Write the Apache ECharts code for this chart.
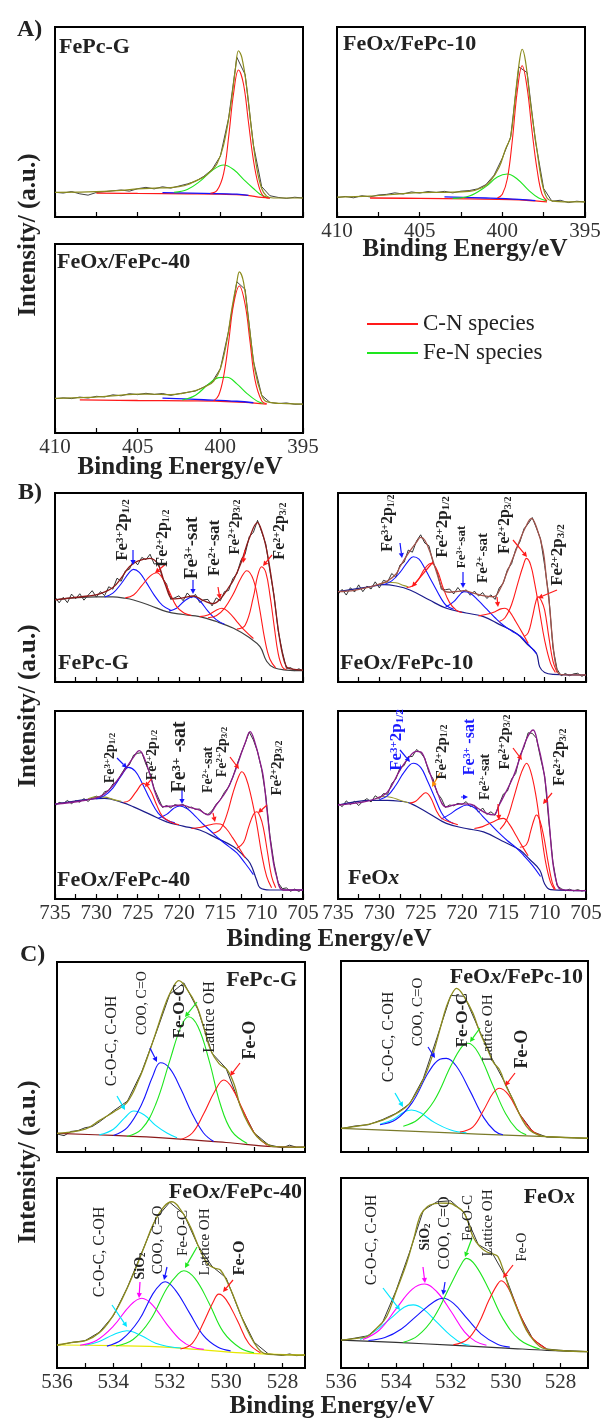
<!DOCTYPE html>
<html>
<head>
<meta charset="utf-8">
<script src="https://cdn.jsdelivr.net/npm/echarts@6.0.0/dist/echarts.min.js"></script>
<style>html,body{margin:0;background:#fff}#chart{width:605px;height:1427px}</style>
</head>
<body>
<div id="chart"></div>
<script>
// ---------- A) N 1s ----------
var a1Raw = [[410,13],[409.5,12.6],[409,13.4],[408.5,12.2],[408,11.5],[407.5,12.9],[407,13.3],[406.5,13.8],[406,14.2],[405.5,13.6],[405,14.9],[404.5,15.6],[404,14.8],[403.5,15.9],[403,15.2],[402.5,16.3],[402,17.4],[401.5,18.8],[401,21.4],[400.5,25],[400,32],[399.5,52],[399,84],[398.5,75],[398,38],[397.5,16],[397,11.2],[396.5,10.3],[396,9.8],[395.5,10.4],[395,10]];
var a1Env = [[410,13],[408,13.2],[406,14],[405,14.8],[404,15.2],[403,15.5],[402.5,16],[402,17],[401.5,19],[401,21],[400.6,24],[400.2,28],[399.8,38],[399.4,57],[399.1,77],[398.9,87.5],[398.7,84],[398.4,68],[398.1,45],[397.8,26],[397.5,15],[397.2,11],[396.8,10],[396,10],[395,10]];
var a1Bg = [[407.5,12.6],[405,12.4],[402,12.2],[400,12],[398.5,11.5],[397.5,10.3],[397,10]];
var a1BgB = [[403.5,12.8],[401,12.4],[399,12],[398.3,11.4]];
var a1CN = [[400.6,12.5],[400.2,14],[399.8,23],[399.5,42],[399.2,65],[398.9,77.4],[398.6,70],[398.3,50],[398,30],[397.7,17],[397.4,11],[397,10]];
var a1FeN = [[402.8,13],[402,14.5],[401.2,19],[400.5,24.5],[399.8,27.4],[399.2,25],[398.5,19],[398,15],[397.6,12],[397.2,10.5]];

var a2Raw = [[410,10.2],[409.5,10.8],[409,10.1],[408.5,11.2],[408,10.6],[407.5,11.6],[407,11.9],[406.5,12.7],[406,12.1],[405.5,13.2],[405,12.6],[404.5,13.4],[404,12.9],[403.5,13.5],[403,12.7],[402.5,13.6],[402,13.9],[401.5,14.8],[401,17],[400.5,22],[400,31],[399.5,42],[399,79],[398.5,76],[398,40],[397.5,15],[397,8.3],[396.5,8.8],[396,7.6],[395.5,8.3],[395,7.9]];
var a2Env = [[410,10.5],[408,11],[406,12.3],[405,12.8],[403.5,13],[402,13.5],[401.2,15.5],[400.75,18.6],[400.2,26],[399.8,36],[399.5,42],[399.2,65],[398.95,83],[398.8,88.3],[398.6,82],[398.3,60],[397.9,35],[397.6,18],[397.3,10],[397,8.5],[396,8],[395,8]];
var a2Bg = [[408,10],[405,9.8],[402,9.5],[399.5,9.2],[398,8.5],[397.3,8]];
var a2BgB = [[403.5,10.6],[401,10],[399,9.3],[398,8.6]];
var a2CN = [[400.3,10],[400,12],[399.7,20],[399.4,40],[399.1,66],[398.8,79.6],[398.5,68],[398.2,45],[397.9,25],[397.6,12],[397.3,8.5]];
var a2FeN = [[403,9.8],[402,11],[401,16],[400.3,21],[399.7,22.6],[399.1,20],[398.4,14],[397.8,10],[397.3,8.5]];

var a3Raw = [[410,18.1],[409.5,18.6],[409,18.2],[408.5,19],[408,18.5],[407.5,19.4],[407,19.1],[406.5,20.2],[406,19.7],[405.5,20.8],[405,20.3],[404.5,21],[404,20.4],[403.5,20.9],[403,19.9],[402.5,20.8],[402,21.5],[401.5,22.2],[401,24.3],[400.5,27],[400,34],[399.5,54],[399,80],[398.5,76],[398,38],[397.5,20],[397,16.2],[396.5,15.6],[396,15.9],[395.5,15.2],[395,15.3]];
var a3Env = [[410,18.3],[408,18.8],[406,20],[405,20.6],[404,20.5],[403,20.3],[402.3,21],[401.5,22.5],[400.8,25],[400.4,27.5],[400,34],[399.6,49],[399.3,66],[399,80],[398.85,85.3],[398.6,80],[398.3,60],[397.9,33],[397.5,20],[397.2,16.6],[396,15.5],[395,15.3]];
var a3Bg = [[408.5,17.5],[405,17.2],[402,17],[400,16.8],[398.5,16.2],[397.2,15.3]];
var a3BgB = [[403.5,18.4],[401,17.6],[399,16.8],[398,16]];
var a3CN = [[400.4,17],[400.1,20],[399.8,30],[399.5,48],[399.2,68],[398.85,77.8],[398.5,68],[398.2,48],[397.9,28],[397.5,17],[397.2,15.5]];
var a3FeN = [[402.3,17.5],[401.5,20],[400.7,26],[400.1,29.3],[399.6,29.5],[399,26],[398.4,21],[397.8,17],[397.4,15.6]];

// ---------- B) Fe 2p ----------
var b1Raw = [[735,45],[734.5,41.9],[734,44.8],[733.5,42],[733,46.5],[732.5,44.1],[732,46.7],[731.5,43.3],[731,45.9],[730.5,48.3],[730,44.9],[729.5,47.8],[729,45.7],[728.5,50.4],[728,49.1],[727.5,54.9],[727,53.3],[726.5,58.7],[726,59.7],[725.5,64.4],[725,62],[724.5,65.9],[724,64.7],[723.5,67.6],[723,62.4],[722.5,62.9],[722,54.9],[721.5,51.8],[721,43.7],[720.5,44.6],[720,45.6],[719.5,43],[719,47.1],[718.5,44.6],[718,46.3],[717.5,42.1],[717,43.5],[716.5,43.7],[716,40.3],[715.5,44.5],[715,43],[714.5,47.8],[714,48.4],[713.5,54.6],[713,57.3],[712.5,64.5],[712,67.7],[711.5,76.9],[711,79.2],[710.5,85.5],[710,79.4],[709.5,73],[709,58.6],[708.5,45.7],[708,27.1],[707.5,16.1],[707,7.2],[706.5,7.6],[706,6],[705.5,7],[705,5.9]];
var b1Env = [[735,43.5],[733,44.5],[731,45.5],[729.6,46.6],[728,50],[727,55],[726,61],[725,64],[723.5,65.4],[722.5,62],[721.7,52],[720.7,44],[719.5,44.5],[718.3,45.5],[717,43],[715.85,41.5],[715,44],[714,50],[713.4,54],[712.5,63],[711.5,76],[710.5,84.3],[710,80],[709.5,72],[709,60],[708.5,45],[708,28],[707.5,15],[707,8],[706.5,7],[705,6.3]];
var b1Bg = [[735,43.5],[730,45],[728,45],[726.5,44.3],[725.5,43.4],[723.5,40.5],[721.5,37.2],[719.5,35.7],[717.5,34.6],[715.5,32],[713.4,28.4],[711.5,23.5],[710.2,18.7],[709.4,11],[708.5,7.5],[707,6.3],[705,6]];
var b1Fe3a = [[729,45],[728,47],[727,52],[726,58],[725.5,59.6],[724.8,58],[724,53],[723,46],[722,40.5],[721,38]];
var b1Fe2a = [[726.5,44.5],[725.5,46],[724.5,51],[723.5,56],[722.7,57.8],[722,55],[721.2,48],[720.3,40],[719.4,36.5],[718.5,35.2]];
var b1Sat3 = [[721.2,37.5],[720.3,39],[719.3,43],[718.3,45.1],[717.5,43],[716.5,37.5],[715.5,33],[714.5,30.5]];
var b1Sat2 = [[717.5,34.6],[716.5,35.5],[715.5,38],[714.8,39],[714,37],[713,32],[712,27],[711,23]];
var b1Fe2b = [[716.5,34],[715.5,35],[714.5,39],[713.5,46],[712.5,55],[711.8,58.9],[711,54],[710.3,40],[709.6,22],[709,12],[708.3,7.5]];
var b1Fe2c = [[713,28],[712,30],[711,45],[710.5,56],[710,61],[709.5,58],[709,46],[708.5,30],[708,15],[707.5,8],[707,6.5]];

var b2Raw = [[735,46.4],[734.5,49],[734,46],[733.5,49.9],[733,47.6],[732.5,51.4],[732,47.8],[731.5,50.7],[731,49.2],[730.5,53],[730,49.8],[729.5,53.8],[729,53],[728.5,57.4],[728,55.4],[727.5,61.9],[727,63.4],[726.5,69.8],[726,68.7],[725.5,74.6],[725,77.9],[724.5,73.5],[724,72.1],[723.5,63.2],[723,58.3],[722.5,49.1],[722,48.8],[721.5,49.2],[721,46.6],[720.5,50],[720,47.2],[719.5,48.8],[719,45.9],[718.5,48.1],[718,45.5],[717.5,47.3],[717,44.2],[716.5,46.1],[716,43.7],[715.5,49.7],[715,52.4],[714.5,59.5],[714,62.6],[713.5,70.2],[713,74.1],[712.5,81.1],[712,83.7],[711.5,87],[711,81.5],[710.5,75.7],[710,61.6],[709.5,45.5],[709,18.2],[708.5,6.8],[708,3.3],[707.5,4.5],[707,3.3],[706.5,4.3],[706,4.6],[705.5,3],[705,4.1]];
var b2Env = [[735,47.8],[733,48.5],[731,50.5],[729.9,51.9],[729,53.5],[728,57],[727.5,61],[726.5,68],[725.5,74],[725,76.5],[724.5,75],[723.8,68],[723,57],[722.3,48.7],[721.5,47.5],[720.5,48],[719.8,48.3],[718.8,47.3],[717.8,46],[716.2,45.1],[715.3,50],[714.6,57.5],[713.8,66],[713,75],[712.3,82],[711.6,86.6],[711,82],[710.2,69.8],[709.8,55],[709.4,39.8],[709,20],[708.5,6],[708,3.9],[705,3.7]];
var b2Bg = [[735,47.8],[731,50.5],[729.5,51.5],[728,50.8],[726.3,48.7],[724,43.5],[721.9,39],[719.5,36.5],[717.4,34.6],[715.5,30.5],[713.4,25.7],[712,19.5],[711,15.2],[710.6,8],[710,5],[709,4],[705,3.7]];
var b2Olive = [[730,51.8],[729,52.8],[728,52.5],[727,51],[726.5,50.3]];
var b2Fe3a = [[729.5,51.5],[728.5,53.5],[727.5,58],[726.5,64],[725.9,66.3],[725.2,65],[724.5,60],[723.5,52],[722.5,44],[721.9,40.5],[721,38.5]];
var b2Fe2a = [[726.7,50],[726,50.8],[725.3,54],[724.5,60],[723.7,62.8],[723,59],[722.3,50],[721.5,42],[720.7,38],[720,36.8]];
var b2Sat3 = [[722,39.5],[721,42.5],[720.3,46],[719.8,47.8],[719,47],[718,43],[717,38.5],[716,34],[715,30],[714,27],[713,24.5],[712,20],[711,15]];
var b2Sat2 = [[718,35],[717,35.8],[716,37.2],[715.3,38.7],[714.8,39],[714.2,37],[713.5,32],[712.7,26],[712,20.5]];
var b2Fe2b = [[715.5,32],[714.8,34],[714,41],[713.2,53],[712.6,61.5],[712.2,65.4],[711.7,62],[711.2,52],[710.6,37],[710,22],[709.3,10],[708.7,5]];
var b2Fe2c = [[712.5,24],[712,26],[711.5,34],[711.1,42],[710.8,45.1],[710.4,43],[710,38],[709.5,24],[709,11],[708.5,5]];

var b3Raw = [[735,49.5],[734.5,51.4],[734,50.8],[733.5,52.4],[733,50.7],[732.5,52.3],[732,51.5],[731.5,53.4],[731,51.9],[730.5,53.8],[730,54.7],[729.5,53.9],[729,57.1],[728.5,57.6],[728,61.2],[727.5,62.1],[727,66.3],[726.5,69.9],[726,71.4],[725.5,76.5],[725,77.5],[724.5,77.9],[724,71.7],[723.5,66.6],[723,58.7],[722.5,53.8],[722,48.7],[721.5,49.7],[721,48.5],[720.5,50.2],[720,49.6],[719.5,50.3],[719,48.3],[718.5,48.9],[718,47.6],[717.5,47.9],[717,45.6],[716.5,45],[716,47],[715.5,50.4],[715,52.8],[714.5,56.8],[714,59.6],[713.5,64.7],[713,71.3],[712.5,77.4],[712,82.8],[711.5,88.8],[711,84.6],[710.5,78.4],[710,68.9],[709.5,55],[709,33.7],[708.5,18.9],[708,8.6],[707.5,5.5],[707,5.9],[706.5,4.1],[706,5.3],[705.5,4],[705,5.3]];
var b3Env = [[735,50.5],[732,52],[729.6,54.4],[728.5,58],[727.5,63],[726.3,70.3],[725.5,75.5],[724.8,78.9],[724.2,75],[723.5,66],[722.7,54.4],[721.9,49.1],[720.8,49.5],[719.7,50],[718.5,48.5],[717.5,47.3],[716.5,44.7],[715.5,50],[714.2,58],[713.3,67],[712.6,75.7],[712,83],[711.4,89],[710.8,83],[710.2,73],[709.8,65],[709.3,45],[708.8,26],[708.2,12],[707.4,4.8],[705,4.8]];
var b3Bg = [[735,50.5],[731,53],[729,53.5],[727,51.5],[725.5,49],[723.5,45],[721.5,41],[719.5,38.8],[717.5,36.7],[715.5,32.5],[713.4,27.8],[712.3,23.5],[711.4,19],[710.6,10],[710.2,6],[709,4.8],[705,4.8]];
var b3Olive = [[731,53.3],[730,54.3],[729,54.2],[728,53],[727,52]];
var b3Fe3a = [[730,53.2],[729,55],[728,59],[727,65.5],[726.1,70],[725.3,68],[724.5,62],[723.5,53],[722.5,45.5],[721.5,42],[720.5,40.5]];
var b3Fe2a = [[726.7,51.5],[726,52.5],[725.2,57],[724.3,61.5],[723.5,58],[722.7,50],[722,44],[721,41],[720,39.5]];
var b3Sat3 = [[722.5,43],[721.5,45],[720.7,48],[719.9,49.5],[719,48],[718,44],[717,39.5],[716,35.5],[715,31.5],[714,28],[713,24.5],[712,19],[711,13]];
var b3Sat2 = [[718.5,37.5],[717.5,38],[716.5,39.2],[715.5,40],[715,39.9],[714.3,37.5],[713.5,32.5],[712.7,27],[712,22]];
var b3Fe2b = [[715.9,35],[715,37],[714.2,45],[713.5,56],[712.8,65],[712.4,67.7],[711.9,64.5],[711.3,55],[710.6,40],[710,24],[709.4,12],[708.8,6]];
var b3Fe2c = [[713,27],[712.2,30],[711.6,38],[711,45],[710.6,46.4],[710.2,44],[709.8,38],[709.3,25],[708.8,12],[708.3,6]];

var b4Raw = [[735,51.1],[734.5,49.1],[734,52.2],[733.5,50.2],[733,52],[732.5,49.7],[732,51.9],[731.5,53.4],[731,51.6],[730.5,54.9],[730,53.4],[729.5,56.1],[729,55.7],[728.5,61.4],[728,63.9],[727.5,69.8],[727,71],[726.5,75.7],[726,75.8],[725.5,79.5],[725,77.8],[724.5,74.8],[724,67.4],[723.5,63.9],[723,56.3],[722.5,53.5],[722,48.7],[721.5,50],[721,49.6],[720.5,50.9],[720,50.3],[719.5,51.8],[719,49.1],[718.5,49.9],[718,46.2],[717.5,48.4],[717,45],[716.5,46.4],[716,44.5],[715.5,50.3],[715,55.8],[714.5,57.4],[714,63.8],[713.5,66.8],[713,76.3],[712.5,80.8],[712,88.4],[711.5,88.1],[711,85.6],[710.5,75],[710,65.5],[709.5,41.4],[709,19.7],[708.5,7.1],[708,5.5],[707.5,4.4],[707,5.2],[706.5,4.3],[706,5],[705.5,4.2],[705,4.8]];
var b4Env = [[735,50],[732,51.5],[730.3,53.6],[729,57],[727.5,68.6],[726.3,76],[725.5,78.5],[725,78.3],[724.3,72],[723.1,58],[721.9,49],[721,50],[720,50.6],[719,50.5],[718,48],[717,45.5],[716.2,44.7],[715.5,50],[714.8,56],[713.8,65],[713,75],[712.2,85],[711.4,89.9],[710.8,82],[710.2,70],[709.8,58],[709.4,38],[709,19],[708.5,8],[708,5],[705,4.5]];
var b4Bg = [[735,50],[731,52.5],[729,52.5],[727.5,52],[726.3,51],[724,45.5],[721.9,40.2],[719.5,37.5],[717.4,35.7],[715.2,31],[713,26],[711.8,21],[710.6,15.4],[710,8],[709.3,5],[705,4.5]];
var b4Olive = [[730.5,53.3],[729.5,54.5],[728.5,54],[727.5,52.5],[726.5,51.2]];
var b4Fe3a = [[730,52.8],[729,55],[728,60.5],[727,67.5],[725.9,72.2],[725,70],[724.2,63],[723.3,54],[722.5,46],[721.9,42.5],[721,40]];
var b4Fe2a = [[726.3,51],[725.6,52],[725,54.5],[724.4,56.5],[723.8,54],[723.1,47],[722.5,43],[721.5,41],[720.5,39.5]];
var b4Sat3 = [[722.5,42.5],[721.5,45],[720.5,48],[719.4,50],[718.5,48.5],[717.5,44],[716.5,39.5],[715.5,35],[714.5,31],[713.5,27.5],[712.5,23],[711.5,18],[710.5,12]];
var b4Sat2 = [[718.5,37.5],[717.5,38.5],[716.5,40.5],[715.5,42.5],[715,42.9],[714.3,40],[713.5,34],[712.7,28],[712,23]];
var b4Fe2b = [[715.4,37],[714.6,42],[713.8,53],[713,65],[712.5,70.5],[712.2,72.2],[711.7,68],[711.1,56],[710.5,38],[709.9,20],[709.3,9],[708.8,5]];
var b4Fe2c = [[713,27.5],[712.2,29],[711.7,36],[711.3,42],[711,44.7],[710.6,42],[710.1,33],[709.6,20],[709.1,9],[708.7,5]];

// ---------- C) O 1s ----------
var c1Raw = [[536,9.5],[535.75,8.6],[535.5,10.8],[535.25,11.3],[535,12.8],[534.75,13.4],[534.5,15.8],[534.25,18.6],[534,21.6],[533.5,26.8],[533,42],[532.5,62],[532,83],[531.5,89],[531,75],[530.5,52],[530,44],[529.5,24.5],[529,10],[528.5,3.8],[528,2.2],[527.75,3.6],[527.5,2.5],[527.2,2.6]];
var c1Env = [[536,9.8],[535,12],[534.47,16.8],[534,21],[533.52,26],[533.1,38],[532.7,53.7],[532.4,67],[532.1,80],[531.85,87.5],[531.68,90.2],[531.4,86],[531.03,76.5],[530.8,66],[530.55,53.7],[530.25,46.5],[529.96,43.2],[529.7,35],[529.49,23.9],[529.2,14.5],[528.9,8],[528.6,4.5],[528.3,2.8],[527.2,2.5]];
var c1Bg = [[536,9.8],[534,8.7],[532,7.2],[530,5],[528.3,2.8],[527.2,2.5]];
var c1COC = [[534.5,9],[534,12],[533.6,18],[533.28,21.6],[532.9,19.5],[532.5,14],[532.1,10],[531.74,7.5]];
var c1COO = [[534,8.7],[533.5,13],[533,25],[532.6,40],[532.33,47],[532,44],[531.6,33],[531.2,20],[530.8,10],[530.44,5.5]];
var c1FeOC = [[533.52,8.2],[533,12],[532.5,25],[532,48],[531.6,66],[531.33,71.2],[531,66],[530.6,48],[530.2,25],[529.8,11],[529.25,4.5]];
var c1FeO = [[531.62,6.5],[531.2,10],[530.8,20],[530.4,32],[530.08,37.9],[529.8,34],[529.4,22],[529,10],[528.54,3.5]];

var c2Raw = [[536,12.2],[535.5,13.6],[535,14.3],[534.5,16.9],[534,20.2],[533.5,25.2],[533,38.5],[532.5,60],[532,82],[531.5,81.5],[531,65],[530.5,49],[530,35.5],[529.5,20],[529,10.5],[528.5,7.8],[528,7.6],[527.5,7.4],[527,7.1]];
var c2Env = [[536,12.4],[535,14.5],[534.46,16.8],[534,20],[533.5,25.5],[533,38],[532.64,51.7],[532.4,64],[532.16,76.1],[531.95,83],[531.79,85.7],[531.5,81],[531.19,72.6],[530.95,63],[530.7,55.1],[530.45,47],[530.22,42.9],[530,35],[529.73,27.2],[529.4,17],[529.13,11.5],[528.8,8.8],[528.52,8],[527,7.2]];
var c2Bg = [[536,12.4],[532,10],[530,8.8],[528.5,8],[527,7.2]];
var c2COC = [[534.58,14.5],[534.1,17],[533.7,21],[533.43,22],[533.1,20.5],[532.6,15.5],[532,11.5],[531.43,10]];
var c2COO = [[534.58,14.3],[534,17],[533.4,26],[532.8,42],[532.4,48.5],[532.16,49],[531.8,45],[531.3,32],[530.8,18],[530.4,11],[530.1,9]];
var c2FeOC = [[533.73,13.5],[533.2,17],[532.6,27],[532,45],[531.6,55],[531.37,56.9],[531,52],[530.5,36],[530,20],[529.6,12],[529.25,9]];
var c2FeO = [[531.67,10.5],[531.2,13],[530.8,22],[530.45,31],[530.22,33.4],[529.9,30],[529.5,20],[529.1,12],[528.76,8.8]];

var c3Raw = [[536,11.8],[535.5,13.4],[535,14.4],[534.5,18.8],[534,27.5],[533.5,42.5],[533,60.5],[532.5,78.5],[532,87.2],[531.5,81],[531,64.5],[530.5,53.5],[530,47.5],[529.5,28.5],[529,13.5],[528.5,7.4],[528,6.6],[527.75,7.4],[527.5,6.5],[527.2,6.9]];
var c3Env = [[536,12.1],[535.5,13.3],[534.94,14.7],[534.5,18.5],[534.11,25.3],[533.7,36],[533.28,49.8],[532.9,64],[532.57,76.1],[532.2,85],[531.92,87.5],[531.6,83],[531.27,74.4],[530.95,63],[530.67,55.1],[530.4,52.5],[530.2,51.6],[529.95,45],[529.73,37.5],[529.4,25],[529.13,16.5],[528.9,11],[528.66,7.7],[528.2,7],[527.2,6.8]];
var c3Bg = [[536,12.1],[534,11.8],[532,10.9],[530,8.5],[528.5,7.3],[527.2,6.8]];
var c3COC = [[535,12],[534.5,14],[534,17.5],[533.52,19.6],[533,17],[532.5,13],[532,11.2],[531.6,10.5]];
var c3SiO2 = [[535.18,12],[534.6,14.5],[534,22],[533.4,33],[532.99,36.7],[532.6,33],[532.1,23],[531.6,14.5],[531.2,11],[530.79,9.8]];
var c3COO = [[534.23,11.5],[533.7,15],[533.1,25],[532.6,39],[532.3,44.5],[532.16,45.4],[531.8,41],[531.3,29],[530.8,17],[530.3,11],[529.84,9]];
var c3FeOC = [[533.9,11.6],[533.3,15],[532.7,25],[532.1,42],[531.7,49.5],[531.5,51.2],[531.1,47],[530.6,34],[530.1,19],[529.5,10.5],[529.01,8]];
var c3FeO = [[531.62,10],[531.2,13],[530.8,24],[530.45,35],[530.26,38.9],[530,36],[529.6,25],[529.2,13],[528.78,8]];

var c4Raw = [[536,14.5],[535.5,15.7],[535,17],[534.5,23.5],[534,40.5],[533.5,61],[533,83],[532.5,87.5],[532,88],[531.5,81.5],[531,65],[530.5,60.8],[530,48],[529.5,28.5],[529,15],[528.5,10],[528,9.3],[527.5,8.9],[527,8.6]];
var c4Env = [[536,14.7],[535.5,15.5],[535.07,16.5],[534.7,21],[534.34,27],[534,40],[533.61,55.1],[533.35,68],[533.13,79.6],[532.95,83.5],[532.76,85.8],[532.4,86.8],[532.04,86.7],[531.8,85],[531.55,82.3],[531.35,76],[531.19,69.1],[530.95,64],[530.7,61.2],[530.45,60],[530.28,58.6],[530.05,50],[529.85,41],[529.55,30],[529.25,20],[528.95,14],[528.64,10.4],[528,9.2],[527,8.6]];
var c4Bg = [[536,14.7],[534,13.5],[532,12],[530,10.5],[528.5,9.3],[527,8.6]];
var c4COC = [[535.3,15],[534.8,19],[534.2,26],[533.7,32],[533.37,33.2],[533,31],[532.5,24],[532,17],[531.6,13],[531.31,12]];
var c4SiO2 = [[535.2,15],[534.6,20],[534,31],[533.4,41.5],[532.95,44.2],[532.5,40],[532,30],[531.5,19],[531.1,14],[530.7,12]];
var c4COO = [[535,14.5],[534.4,16],[533.8,20.5],[533.2,28],[532.6,35],[532.28,36.7],[531.9,34],[531.4,26],[530.9,18],[530.3,12.5],[529.85,11]];
var c4FeOC = [[533.73,13.5],[533.2,17],[532.6,27],[532,44],[531.6,55],[531.43,57.7],[531.1,54],[530.6,41],[530.1,26],[529.5,15],[528.76,10]];
var c4FeO = [[531.91,12.2],[531.4,15],[531,23],[530.6,36],[530.3,44],[530.16,45.9],[529.9,42],[529.5,29],[529.1,17],[528.52,10]];

var cLabelTicks = [528, 530, 532, 534, 536];
var cMinorTicks = [528, 529, 530, 531, 532, 533, 534, 535];

// ---------- layout / styles ----------
var F = 'Liberation Serif';
var RED = '#ff1a1a', GRN = '#1ee61e', BLU = '#1414ff', CYN = '#00e5ff', MAG = '#ff00ff';
var OLV = '#8c8c1e';

function aCurves(raw, env, bg, bgB, cn, fen, named) {
  return [[raw,'#111',0.8,false,1],[bg,RED,1.3,true,2],[bgB,BLU,1.3,true,2],
          [fen,GRN,1.1,true,3,named?'Fe-N species':null],[cn,RED,1.1,true,3,named?'C-N species':null],[env,OLV,1.2,true,4]];
}
function bCurves(raw, env, envC, bg, bgC, olive, f3a, f2a, s3, s2, f2b, f2c) {
  var list = [[raw,'#000',0.8,false,1],[bg,bgC,1.2,true,2]];
  if (olive) list.push([olive,'#9a9a30',1.1,true,2]);
  list.push([f3a,BLU,1.1,true,3],[s3,BLU,1.1,true,3],[f2a,RED,1.1,true,3],[s2,RED,1.1,true,3],
            [f2b,RED,1.1,true,3],[f2c,RED,1.1,true,3],[env,envC,1.3,true,4]);
  return list;
}
function cCurves(raw, env, bg, bgC, coc, sio2, coo, feoc, feo) {
  var list = [[raw,'#000',0.8,false,1],[bg,bgC,1.2,true,2],[coc,CYN,1.1,true,3]];
  if (sio2) list.push([sio2,MAG,1.1,true,3]);
  list.push([coo,BLU,1.1,true,3],[feoc,GRN,1.1,true,3],[feo,RED,1.1,true,3],[env,OLV,1.3,true,4]);
  return list;
}

var panels = [
  {g:[55,27,248,190], ax:'A', lab:false, c:aCurves(a1Raw,a1Env,a1Bg,a1BgB,a1CN,a1FeN,true)},
  {g:[337,27,248,190], ax:'A', lab:true, c:aCurves(a2Raw,a2Env,a2Bg,a2BgB,a2CN,a2FeN,false)},
  {g:[55,244,248,189], ax:'A', lab:true, c:aCurves(a3Raw,a3Env,a3Bg,a3BgB,a3CN,a3FeN,false)},
  {g:[55,493,248,189], ax:'B', lab:false, c:bCurves(b1Raw,b1Env,'#8b1a1a',b1Bg,'#404040',null,b1Fe3a,b1Fe2a,b1Sat3,b1Sat2,b1Fe2b,b1Fe2c)},
  {g:[338,493,248,189], ax:'B', lab:false, c:bCurves(b2Raw,b2Env,'#a0524a',b2Bg,'#1c1c8c',b2Olive,b2Fe3a,b2Fe2a,b2Sat3,b2Sat2,b2Fe2b,b2Fe2c)},
  {g:[55,711,248,188], ax:'B', lab:true, c:bCurves(b3Raw,b3Env,'#8a1a8a',b3Bg,'#1c1c8c',b3Olive,b3Fe3a,b3Fe2a,b3Sat3,b3Sat2,b3Fe2b,b3Fe2c)},
  {g:[338,711,248,188], ax:'B', lab:true, c:bCurves(b4Raw,b4Env,'#8a1a8a',b4Bg,'#1c1c8c',b4Olive,b4Fe3a,b4Fe2a,b4Sat3,b4Sat2,b4Fe2b,b4Fe2c)},
  {g:[57,962,248,190], ax:'CL', lab:false, c:cCurves(c1Raw,c1Env,c1Bg,'#8b1a1a',c1COC,null,c1COO,c1FeOC,c1FeO)},
  {g:[341,961,247,191], ax:'CR', lab:false, c:cCurves(c2Raw,c2Env,c2Bg,'#7a7a2a',c2COC,null,c2COO,c2FeOC,c2FeO)},
  {g:[57,1178,248,190], ax:'CL', lab:true, c:cCurves(c3Raw,c3Env,c3Bg,'#e8e800',c3COC,c3SiO2,c3COO,c3FeOC,c3FeO)},
  {g:[341,1178,247,190], ax:'CR', lab:true, c:cCurves(c4Raw,c4Env,c4Bg,'#333',c4COC,c4SiO2,c4COO,c4FeOC,c4FeO)}
];

function xAxisFor(kind, lab, i) {
  var ax = {type:'value', gridIndex:i, inverse:true, splitLine:{show:false},
    axisLine:{show:true, onZero:false, lineStyle:{color:'#000', width:2}},
    axisTick:{show:true, inside:true, length:5, lineStyle:{color:'#000', width:1.2}},
    axisLabel:{show:lab, color:'#333', fontFamily:F, fontSize:21, margin:4, showMinLabel:true, showMaxLabel:true}};
  if (kind === 'A') {
    ax.min = 395; ax.max = 410; ax.interval = 2.5;
    ax.axisLabel.formatter = function (v) { return v % 5 === 0 ? String(v) : ''; };
  } else if (kind === 'B') {
    ax.min = 705; ax.max = 735; ax.interval = 2.5;
    ax.axisLabel.formatter = function (v) { return v % 5 === 0 ? String(v) : ''; };
  } else {
    ax.min = kind === 'CL' ? 527.2 : 527; ax.max = 536;
    ax.axisTick.customValues = cMinorTicks;
    ax.axisLabel.customValues = cLabelTicks;
  }
  return ax;
}

var option = {animation:false, grid:[], xAxis:[], yAxis:[], series:[],
  legend:{data:['C-N species','Fe-N species'], orient:'vertical', left:367, top:312, itemGap:5, padding:0,
    icon:'rect', itemWidth:51, itemHeight:2, selectedMode:false,
    textStyle:{fontFamily:F, fontSize:23, color:'#222', lineHeight:24}}};

panels.forEach(function (p, i) {
  option.grid.push({left:p.g[0], top:p.g[1], width:p.g[2], height:p.g[3], show:true, borderColor:'#000', borderWidth:2});
  option.xAxis.push(xAxisFor(p.ax, p.lab, i));
  option.yAxis.push({type:'value', gridIndex:i, min:0, max:100, show:false});
  p.c.forEach(function (c) {
    option.series.push({type:'line', name:c[5] || undefined, xAxisIndex:i, yAxisIndex:i, data:c[0],
      smooth:c[3] ? 0.4 : false, showSymbol:false, symbol:'none', silent:true, z:c[4],
      lineStyle:{color:c[1], width:c[2]}, itemStyle:{color:c[1]}});
  });
});

// ---------- annotations ----------
var G = [];
function txt(x, y, s, opt) {
  opt = opt || {};
  G.push({type:'text', x:x, y:y, rotation:opt.rot || 0, z:100,
    style:{text:s, fill:opt.color || '#222', rich:opt.rich, textAlign:opt.align || 'center', textVerticalAlign:'middle',
      font:(opt.weight || 'bold') + ' ' + (opt.size || 22) + 'px "' + F + '"'}});
}
function richSet(size, color, weight) {
  var w = weight || 'bold';
  return {
    m:{fontSize:size, fontWeight:w, fontFamily:F, fill:color, color:color},
    i:{fontSize:size, fontWeight:w, fontStyle:'italic', fontFamily:F, fill:color, color:color},
    s:{fontSize:Math.round(size * 0.65), fontWeight:w, fontFamily:F, fill:color, color:color, verticalAlign:'top'},
    d:{fontSize:Math.round(size * 0.65), fontWeight:w, fontFamily:F, fill:color, color:color, verticalAlign:'bottom'}
  };
}
function arrow(x1, y1, x2, y2, color) {
  var a = Math.atan2(y2 - y1, x2 - x1), L = 5, W = 2.6;
  var bx = x2 - L * Math.cos(a), by = y2 - L * Math.sin(a);
  G.push({type:'line', z:99, shape:{x1:x1, y1:y1, x2:bx, y2:by}, style:{stroke:color, lineWidth:1.2}});
  G.push({type:'polygon', z:99, shape:{points:[[x2, y2], [bx - W * Math.sin(a), by + W * Math.cos(a)], [bx + W * Math.sin(a), by - W * Math.cos(a)]]}, style:{fill:color}});
}

var ROT = Math.PI / 2;
var feKinds = {
  '3p12':'{m|Fe}{s|3+}{m|2p}{d|1/2}', '2p12':'{m|Fe}{s|2+}{m|2p}{d|1/2}',
  '3sat':'{m|Fe}{s|3+}{m|-sat}', '3sat2':'{m|Fe}{s|3+}{m| -sat}', '2sat':'{m|Fe}{s|2+}{m|-sat}',
  '2p32':'{m|Fe}{s|2+}{m|2p}{d|3/2}'
};
var bLabels = [
  ['3p12',123,530,17,'#222'],['2p12',163,538,16,'#222'],['3sat',192,548,19,'#222'],['2sat',215,548,17,'#222'],['2p32',235,527,15,'#222'],['2p32',280,531,16,'#222'],
  ['3p12',388,523,16,'#222'],['2p12',443,527,17,'#222'],['3sat',462,547,13,'#222'],['2sat',483,558,15,'#222'],['2p32',505,525,16,'#222'],['2p32',558,555,17,'#222'],
  ['3p12',110,758,14,'#222'],['2p12',152,755,14,'#222'],['3sat2',180,757,20,'#222'],['2sat',208,770,14,'#222'],['2p32',222,752,14,'#222'],['2p32',277,768,15,'#222'],
  ['3p12',397,740,17,'#1a1aff'],['2p12',442,752,15,'#222'],['3sat2',470,747,16,'#1a1aff'],['2sat',485,777,14,'#222'],['2p32',505,742,15,'#222'],['2p32',560,757,16,'#222']
];
bLabels.forEach(function (l) { txt(l[1], l[2], feKinds[l[0]], {rot:ROT, rich:richSet(l[3], l[4])}); });

var cLabels = [
  ['C-O-C, C-OH',112,1041,16,'normal'],['COO, C=O',142,1003,14,'normal'],['Fe-O-C',180,1011,17,'bold'],['Lattice OH',210,1017,16,'normal'],['Fe-O',250,1040,18,'bold'],
  ['C-O-C, C-OH',389,1037,16,'normal'],['COO, C=O',418,1012,15,'normal'],['Fe-O-C',463,1020,17,'bold'],['Lattice OH',488,1028,15,'normal'],['Fe-O',522,1049,18,'bold'],
  ['C-O-C, C-OH',100,1252,16,'normal'],['{m|SiO}{d|2}',140,1266,14,'bold'],['COO, C=O',158,1240,15,'normal'],['Fe-O-C',183,1233,15,'normal'],['Lattice OH',205,1242,15,'normal'],['Fe-O',240,1258,16,'bold'],
  ['C-O-C, C-OH',372,1240,16,'normal'],['{m|SiO}{d|2}',425,1237,14,'bold'],['COO, C=O',445,1233,16,'normal'],['Fe-O-C',468,1218,15,'normal'],['Lattice OH',488,1223,15,'normal'],['Fe-O',522,1247,14,'normal']
];
cLabels.forEach(function (l) {
  if (l[0].charAt(0) === '{') txt(l[1], l[2], l[0], {rot:ROT, rich:richSet(l[3], '#222', l[4])});
  else txt(l[1], l[2], l[0], {rot:ROT, size:l[3], weight:l[4]});
});

var arrows = [
  [133,550,133,565,BLU],[167,563,155,573,RED],[193,580,193,594,BLU],[218,587,220,599,RED],[245,550,243,563,RED],[272,555,263,566,RED],
  [400,543,402,558,BLU],[433,562,412,587,RED],[463,572,463,588,BLU],[497,597,498,607,RED],[513,540,527,557,RED],[557,590,538,598,RED],
  [117,758,127,768,BLU],[153,777,145,787,RED],[182,788,182,804,BLU],[213,813,215,822,RED],[230,757,239,769,RED],[267,805,258,813,RED],
  [400,750,410,762,BLU],[440,773,432,787,'#ff8c00'],[461,797,468,797,BLU],[498,804,499,820,RED],[513,748,522,760,RED],[552,793,543,804,RED],
  [117,1096,125,1110,CYN],[150,1048,157,1062,BLU],[197,1002,185,1017,GRN],[240,1063,230,1076,RED],
  [395,1093,403,1107,CYN],[428,1047,435,1058,BLU],[480,1028,470,1042,GRN],[515,1073,505,1086,RED],
  [112,1305,127,1327,CYN],[140,1282,139,1298,MAG],[167,1267,164,1280,BLU],[197,1247,185,1268,GRN],[233,1280,223,1292,RED],
  [383,1288,400,1310,CYN],[423,1267,425,1283,MAG],[445,1282,443,1295,BLU],[472,1238,465,1257,GRN],[513,1265,503,1278,RED]
];
arrows.forEach(function (a) { arrow(a[0], a[1], a[2], a[3], a[4]); });

// sample names
var FE10 = '{m|FeO}{i|x}{m|/FePc-10}', FE40 = '{m|FeO}{i|x}{m|/FePc-40}', FEOX = '{m|FeO}{i|x}', FEPC = '{m|FePc-G}';
var titles = [
  [FEPC,59,47,'left'],[FE10,343,44,'left'],[FE40,57,262,'left'],
  [FEPC,58,663,'left'],[FE10,340,663,'left'],[FE40,57,880,'left'],[FEOX,348,878,'left'],
  [FEPC,297,980,'right'],[FE10,583,977,'right'],[FE40,302,1192,'right'],[FEOX,575,1197,'right']
];
titles.forEach(function (t) { txt(t[1], t[2], t[0], {align:t[3], rich:richSet(22, '#222')}); });

// panel letters and axis titles
txt(17, 30, 'A)', {align:'left', size:24});
txt(18, 493, 'B)', {align:'left', size:24});
txt(20, 955, 'C)', {align:'left', size:24});
[[465,250],[180,468],[329,940],[332,1407]].forEach(function (p) { txt(p[0], p[1], 'Binding Energy/eV', {size:25}); });
[[29,235],[29,706],[29,1162]].forEach(function (p) { txt(p[0], p[1], 'Intensity/ (a.u.)', {size:25, rot:ROT}); });

option.graphic = {elements:G};

var chart = echarts.init(document.getElementById('chart'), null, {renderer:'canvas'});
chart.setOption(option);
</script>
</body>
</html>
